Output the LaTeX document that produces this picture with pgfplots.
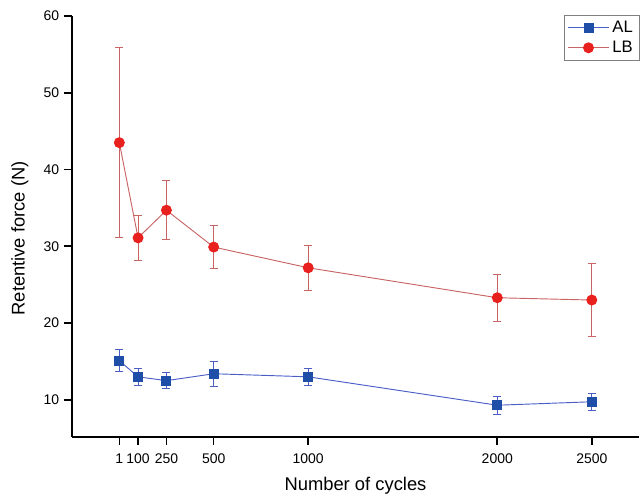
\documentclass[border=0pt]{standalone}
\usepackage{fontspec}
\setmainfont{Liberation Sans}
\usepackage{pgfplots}
\pgfplotsset{compat=1.18}
\usetikzlibrary{calc}
\definecolor{alline}{HTML}{4A5EC6}
\definecolor{almark}{HTML}{1F4EA8}
\definecolor{lbline}{HTML}{C86464}
\definecolor{lbmark}{HTML}{E8201E}

\pgfplotstableread{
x     y     e
1     15.1  1.45
100   13.0  1.15
250   12.5  1.05
500   13.4  1.65
1000  13.0  1.10
2000  9.3   1.15
2500  9.75  1.10
}\altable

\pgfplotstableread{
x     y     e
1     43.5  12.4
100   31.1  2.9
250   34.7  3.85
500   29.9  2.8
1000  27.2  2.9
2000  23.3  3.05
2500  23.0  4.8
}\lbtable

\begin{document}
\begin{tikzpicture}
\begin{axis}[
  name=ax, scale only axis, width=426pt, height=316pt,
  xmin=-250, xmax=2750, ymin=5.2, ymax=60,
  axis x line*=bottom, axis y line*=left,
  axis line style={line width=1.4pt, -},
  xtick={1,100,250,500,1000,2000,2500},
  xticklabels={1,100,250,500,1000,2000,2500},
  ytick={10,20,...,60},
  xtick align=outside, ytick align=outside,
  major tick length=6pt,
  tick style={line width=1.2pt, black},
  /pgf/number format/assume math mode=true,
  tick label style={font=\fontsize{10.5pt}{12pt}\selectfont},
  xticklabel style={yshift=-3.5pt},
  xlabel={Number of cycles}, ylabel={Retentive force (N)},
  label style={font=\fontsize{13.8pt}{16pt}\selectfont},
  xlabel style={at={(axis description cs:0.5,-0.117)}, anchor=center},
  ylabel style={at={(axis description cs:-0.0915,0.4715)}, anchor=center},
  legend style={at={(1,1.003)}, anchor=north east, draw=gray, font=\fontsize{12.5pt}{14pt}\selectfont,
    inner sep=2.5pt, row sep=1pt},
  legend cell align=left,
  legend image code/.code={\draw[mark repeat=2,mark phase=2,#1] plot coordinates {(0cm,0cm) (0.55cm,0cm) (1.1cm,0cm)};},
]
\addplot[color=alline, line width=0.7pt, mark=square*, mark size=3.4pt,
  mark options={fill=almark, draw=almark},
  error bars/.cd, y dir=both, y explicit,
  error bar style={color=alline, line width=0.6pt},
  error mark options={rotate=90, mark size=3pt, color=alline, line width=0.6pt}]
  table[x=x, y=y, y error=e] {\altable};
\addlegendentry{AL}
\addplot[color=lbline, line width=0.7pt, mark=*, mark size=3.75pt,
  mark options={fill=lbmark, draw=lbmark},
  error bars/.cd, y dir=both, y explicit,
  error bar style={color=lbline, line width=0.6pt},
  error mark options={rotate=90, mark size=3pt, color=lbline, line width=0.6pt}]
  table[x=x, y=y, y error=e] {\lbtable};
\addlegendentry{LB}
\end{axis}
\path ($(ax.north west)+(0,12pt)$);
\path ($(ax.south west)+(-54pt,-45.75pt)$);
\end{tikzpicture}
\end{document}
